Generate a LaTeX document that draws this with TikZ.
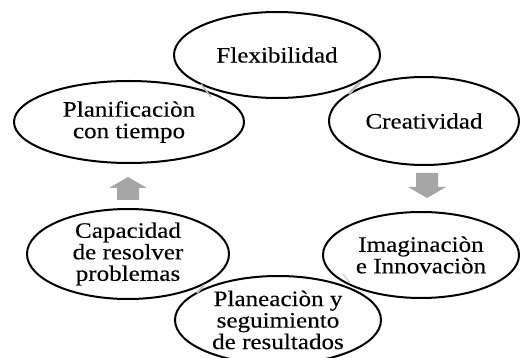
\documentclass[tikz,border=0pt]{standalone}
\usepackage{fontspec}
\setmainfont{Liberation Serif}[FakeStretch=1.14,FakeBold=0.3]
\usetikzlibrary{shapes.geometric}
\definecolor{arrowgray}{HTML}{A6A6A6}
\definecolor{markgray}{HTML}{BDBDBD}
\begin{document}
\begin{tikzpicture}[x=1pt,y=-1pt,
  oval/.style={ellipse,draw=black,line width=2pt,inner sep=0pt,align=center,
    font=\fontsize{22}{21.5}\selectfont},
  blockarrow/.style={fill=arrowgray,draw=none},
  overlapmark/.style={draw=markgray,line width=2.5pt}]
\useasboundingbox (0,0) rectangle (520,358);
\node[oval,minimum width=206pt,minimum height=86pt] (flex) at (277,55) {Flexibilidad};
\node[oval,minimum width=230pt,minimum height=82pt] (plan) at (129,122) {Planificaciòn\\con tiempo};
\node[oval,minimum width=190pt,minimum height=88pt] (crea) at (424,121) {Creatividad};
\node[oval,minimum width=196pt,minimum height=86pt] (imag) at (421,255) {Imaginaciòn\\e Innovaciòn};
\node[oval,minimum width=206pt,minimum height=88pt] (plane) at (278,320) {Planeaciòn y\\seguimiento\\de resultados};
\node[oval,minimum width=202pt,minimum height=90pt] (capa) at (128,254) {Capacidad\\de resolver\\problemas};
% block arrows
\fill[blockarrow] (117,200) -- (117,188) -- (109,188) -- (128,177) -- (147,188) -- (139,188) -- (139,200) -- cycle;
\fill[blockarrow] (416,173) -- (438,173) -- (438,187) -- (446,187) -- (427,198) -- (408,187) -- (416,187) -- cycle;
% faint connector fragments at the overlaps
\coordinate (m1a) at (201,84); \coordinate (m1b) at (211,97);
\coordinate (m2a) at (360,82); \coordinate (m2b) at (349,94);
\coordinate (m3a) at (204,285); \coordinate (m3b) at (197,293);
\coordinate (m4a) at (343,274); \coordinate (m4b) at (350,283);
\draw[overlapmark,line width=1.5pt] (m1a) -- (m1b);
\draw[overlapmark] (m2a) -- (m2b);
\draw[overlapmark,line width=2pt] (m3a) -- (m3b);
\draw[overlapmark,line width=1.5pt,draw=markgray!60] (m4a) -- (m4b);
\end{tikzpicture}
\end{document}
